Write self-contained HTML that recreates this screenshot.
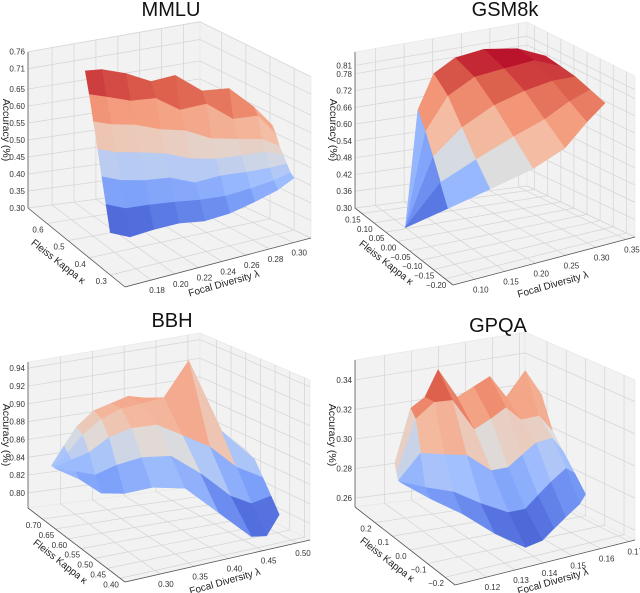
<!DOCTYPE html>
<html><head><meta charset="utf-8">
<style>
html,body{margin:0;padding:0;background:#fff;}
svg{display:block;font-family:"Liberation Sans",sans-serif;}
</style></head>
<body>
<svg id="chart" width="640" height="593" viewBox="0 0 640 593" xmlns="http://www.w3.org/2000/svg"></svg>
<script>
// ---------- MMLU data ----------
const mmluLam = [0.192,0.205,0.221,0.237,0.252,0.268,0.284,0.299,0.310];
const mmluKLo = [0.483,0.460,0.437,0.405,0.368,0.340,0.313,0.290,0.276];
const mmluKHi = [0.598,0.589,0.561,0.529,0.497,0.460,0.423,0.391,0.368];
const mmluZ = [
 [0.31,0.30,0.32,0.34,0.35,0.37,0.40,0.43,0.46],
 [0.38,0.37,0.38,0.39,0.40,0.41,0.43,0.45,0.47],
 [0.45,0.44,0.44,0.45,0.44,0.46,0.47,0.48,0.49],
 [0.52,0.51,0.51,0.51,0.50,0.50,0.51,0.52,0.51],
 [0.59,0.58,0.58,0.57,0.57,0.55,0.55,0.55,0.53],
 [0.66,0.65,0.64,0.65,0.62,0.64,0.60,0.61,0.56],
 [0.72,0.72,0.71,0.69,0.71,0.67,0.68,0.63,0.58]];
const mmluLamTicks = [0.18,0.20,0.22,0.24,0.26,0.28,0.30];
const mmluKTicks = [0.6,0.5,0.4,0.3];
const mmluKLabels = ["0.6","0.5","0.4","0.3"];
const mmluZTicks = [0.30,0.35,0.40,0.45,0.50,0.55,0.60,0.65,0.71,0.76];

// ---------- GSM8k data ----------
const gsmLam = [0.100,0.139,0.184,0.230,0.275,0.320,0.360];
const gsmKLo = [0.055,-0.027,-0.089,-0.151,-0.171,-0.151,-0.130];
const gsmKHi = [0.055,0.097,0.138,0.158,0.146,0.117,0.097];
const gsmZ = [
 [0.30,0.40,0.48,0.56,0.62,0.68,0.72],
 [0.30,0.47,0.55,0.63,0.68,0.72,0.74],
 [0.30,0.54,0.63,0.70,0.74,0.76,0.76],
 [0.30,0.61,0.71,0.76,0.78,0.80,0.77],
 [0.30,0.67,0.76,0.79,0.81,0.81,0.78]];
const gsmLamTicks = [0.10,0.15,0.20,0.25,0.30,0.35];
const gsmKTicks = [0.15,0.10,0.05,0.00,-0.05,-0.10,-0.15,-0.20];
const gsmKLabels = ["0.15","0.10","0.05","0.00","\u22120.05","\u22120.10","\u22120.15","\u22120.20"];
const gsmZTicks = [0.30,0.36,0.42,0.48,0.54,0.60,0.66,0.72,0.78,0.81];

// ---------- BBH data ----------
const bbhLam = [0.263,0.290,0.317,0.344,0.371,0.398,0.425,0.452,0.479,0.506];
const bbhKLo = [0.681,0.662,0.644,0.625,0.587,0.531,0.475,0.426,0.437,0.456];
const bbhKHi = [0.700,0.719,0.737,0.737,0.737,0.737,0.737,0.719,0.644,0.569];
const bbhZ = [
 [0.84,0.83,0.815,0.815,0.825,0.83,0.81,0.79,0.785,0.80],
 [0.84,0.835,0.83,0.84,0.85,0.855,0.84,0.82,0.81,0.815],
 [0.84,0.845,0.85,0.865,0.875,0.88,0.87,0.86,0.84,0.83],
 [0.84,0.85,0.865,0.88,0.89,0.895,0.90,0.94,0.87,0.845],
 [0.84,0.855,0.87,0.885,0.89,0.895,0.89,0.89,0.875,0.85]];
const bbhLamTicks = [0.30,0.35,0.40,0.45,0.50];
const bbhKTicks = [0.70,0.65,0.60,0.55,0.50,0.45,0.40];
const bbhKLabels = ["0.70","0.65","0.60","0.55","0.50","0.45","0.40"];
const bbhZTicks = [0.80,0.82,0.84,0.86,0.88,0.90,0.92,0.94];

// ---------- GPQA data ----------
const gpqaLam = [0.117,0.122,0.128,0.134,0.141,0.147,0.153,0.159,0.166,0.170];
const gpqaKLo = [0.171,0.086,0.000,-0.086,-0.143,-0.143,-0.114,-0.086,-0.057,-0.029];
const gpqaKHi = [0.211,0.200,0.211,0.228,0.228,0.228,0.228,0.228,0.228,0.200];
const gpqaZ = [
 [0.28,0.275,0.27,0.262,0.255,0.257,0.26,0.263,0.267,0.27],
 [0.28,0.28,0.28,0.275,0.27,0.27,0.275,0.28,0.285,0.28],
 [0.28,0.30,0.30,0.30,0.29,0.29,0.295,0.30,0.30,0.29],
 [0.285,0.32,0.33,0.33,0.31,0.315,0.32,0.31,0.31,0.30],
 [0.29,0.325,0.33,0.345,0.325,0.33,0.335,0.32,0.335,0.32]];
const gpqaLamTicks = [0.12,0.13,0.14,0.15,0.16,0.17];
const gpqaKTicks = [0.2,0.1,0.0,-0.1,-0.2];
const gpqaKLabels = ["0.2","0.1","0.0","\u22120.1","\u22120.2"];
const gpqaZTicks = [0.26,0.28,0.30,0.32,0.34];

const NS = "http://www.w3.org/2000/svg";
const svg = document.getElementById('chart');
function mk(tag, attrs, parent){
  const e = document.createElementNS(NS, tag);
  for (const k in attrs) e.setAttribute(k, attrs[k]);
  (parent||svg).appendChild(e);
  return e;
}
const CM = [[0,[58,76,192]],[0.125,[88,118,226]],[0.25,[124,159,249]],[0.375,[162,192,254]],[0.5,[221,221,221]],[0.625,[243,190,165]],[0.75,[244,154,123]],[0.875,[221,97,77]],[1,[180,4,38]]];
function cmap(t){
  t = Math.max(0, Math.min(1, t));
  for (let i=1;i<CM.length;i++){
    if (t <= CM[i][0]){
      const a = CM[i-1], b = CM[i], f = (t-a[0])/(b[0]-a[0]);
      const c = a[1].map((v,j)=>Math.round(v+(b[1][j]-v)*f));
      return 'rgb('+c.join(',')+')';
    }
  }
  return 'rgb(180,4,38)';
}

const panels = [
 {name:'mmlu', title:'MMLU', ox:0, oy:0, F:[125,287], R:[311,238], L:[28,208], B:[200,186], H:{F:175,R:161,L:156,B:164},
  lam:[0.158,0.315], kap:[0.23,0.69], zr:[0.30,0.759],
  sLam:mmluLam, sLo:mmluKLo, sHi:mmluKHi, sZ:mmluZ, lt:mmluLamTicks, kt:mmluKTicks, kl:mmluKLabels, zt:mmluZTicks,
  titleXY:[171,16], accXY:[6,130], fkXY:[58,262], fdXY:[224,284]},
 {name:'gsm8k', title:'GSM8k', ox:320, oy:0, F:[133,285], R:[315,237], L:[35,208], B:[207,186], H:{F:175,R:161,L:156,B:164},
  lam:[0.064,0.365], kap:[-0.233,0.179], zr:[0.30,0.858],
  sLam:gsmLam, sLo:gsmKLo, sHi:gsmKHi, sZ:gsmZ, lt:gsmLamTicks, kt:gsmKTicks, kl:gsmKLabels, zt:gsmZTicks,
  titleXY:[185,16], accXY:[13,130], fkXY:[66,263], fdXY:[233,285]},
 {name:'bbh', title:'BBH', ox:0, oy:300, F:[125,282], R:[310,240], L:[28,208], B:[200,186], H:{F:170,R:160,L:146,B:153},
  lam:[0.249,0.519], kap:[0.381,0.756], zr:[0.783,0.947],
  sLam:bbhLam, sLo:bbhKLo, sHi:bbhKHi, sZ:bbhZ, lt:bbhLamTicks, kt:bbhKTicks, kl:bbhKLabels, zt:bbhZTicks,
  titleXY:[172,27], accXY:[6,135], fkXY:[60,262], fdXY:[225,282]},
 {name:'gpqa', title:'GPQA', ox:320, oy:300, F:[135,285], R:[315,240], L:[35,207], B:[205,186], H:{F:170,R:160,L:147,B:154},
  lam:[0.109,0.172], kap:[-0.257,0.314], zr:[0.254,0.3535],
  sLam:gpqaLam, sLo:gpqaKLo, sHi:gpqaKHi, sZ:gpqaZ, lt:gpqaLamTicks, kt:gpqaKTicks, kl:gpqaKLabels, zt:gpqaZTicks,
  titleXY:[178,32], accXY:[12,135], fkXY:[67,260], fdXY:[233,282]}
];

function drawPanel(p){
  const g = mk('g', {});
  
  
  const uOf = l => (l - p.lam[0])/(p.lam[1]-p.lam[0]);
  const vOf = k => (k - p.kap[0])/(p.kap[1]-p.kap[0]);
  const wOf = z => (z - p.zr[0])/(p.zr[1]-p.zr[0]);
  function proj(u,v,w){
    const a=(1-u)*(1-v), b=u*(1-v), c=(1-u)*v, d=u*v;
    const x = a*p.F[0]+b*p.R[0]+c*p.L[0]+d*p.B[0];
    const y = a*p.F[1]+b*p.R[1]+c*p.L[1]+d*p.B[1];
    const h = a*p.H.F+b*p.H.R+c*p.H.L+d*p.H.B;
    return [p.ox+x, p.oy+y-w*h];
  }
  const pts = arr => arr.map(q=>q[0].toFixed(1)+','+q[1].toFixed(1)).join(' ');
  const panes = [
    ['left-wall-pane',[proj(0,1,0),proj(1,1,0),proj(1,1,1),proj(0,1,1)]],
    ['right-wall-pane',[proj(1,1,0),proj(1,0,0),proj(1,0,1),proj(1,1,1)]],
    ['floor-pane',[proj(0,0,0),proj(1,0,0),proj(1,1,0),proj(0,1,0)]]];
  panes.forEach(pp=>{
    const e = mk('polygon',{points:pts(pp[1]), fill:'#f2f2f2', stroke:'#e6e6e6','stroke-width':0.6}, g);
    
    
  });
  const gl = {stroke:'#d4d4d4','stroke-width':0.7, fill:'none'};
  function line(a,b,attrs,name){
    const e = mk('line',Object.assign({x1:a[0],y1:a[1],x2:b[0],y2:b[1]},attrs), g);
    
    
  }
  p.lt.forEach(l=>{ const u=uOf(l);
    line(proj(u,1,0),proj(u,1,1),gl,'lambda-gridline-wall');
    line(proj(u,0,0),proj(u,1,0),gl,'lambda-gridline-floor'); });
  p.kt.forEach(k=>{ const v=vOf(k);
    line(proj(1,v,0),proj(1,v,1),gl,'kappa-gridline-wall');
    line(proj(0,v,0),proj(1,v,0),gl,'kappa-gridline-floor'); });
  p.zt.forEach(z=>{ const w=wOf(z);
    line(proj(0,1,w),proj(1,1,w),gl,'z-gridline-left');
    line(proj(1,1,w),proj(1,0,w),gl,'z-gridline-right'); });
  const ax = {stroke:'#555','stroke-width':0.8};
  line(proj(0,0,0),proj(1,0,0),ax,'lambda-axis-line');
  line(proj(0,0,0),proj(0,1,0),ax,'kappa-axis-line');
  line(proj(0,1,0),proj(0,1,1),ax,'z-axis-line');
  const quads = [];
  let zmin=1e9,zmax=-1e9;
  p.sZ.forEach(r=>r.forEach(z=>{zmin=Math.min(zmin,z);zmax=Math.max(zmax,z);}));
  const nR = p.sZ.length, nC = p.sLam.length;
  function uvw(r,c){
    const u = uOf(p.sLam[c]);
    const k = p.sLo[c] + (p.sHi[c]-p.sLo[c])*r/(nR-1);
    return [u, vOf(k), wOf(p.sZ[r][c]), p.sZ[r][c]];
  }
  for (let r=0;r<nR-1;r++) for (let c=0;c<nC-1;c++){
    const cs = [uvw(r,c),uvw(r,c+1),uvw(r+1,c+1),uvw(r+1,c)];
    const depth = cs.reduce((s,q)=>s+q[0]+q[1],0);
    const zavg = cs.reduce((s,q)=>s+q[3],0)/4;
    quads.push({cs,depth,zavg});
  }
  quads.sort((a,b)=>b.depth-a.depth);
  quads.forEach(q=>{
    const col = cmap((q.zavg-zmin)/(zmax-zmin));
    const e = mk('polygon',{points:pts(q.cs.map(c=>proj(c[0],c[1],c[2]))), fill:col, stroke:col,'stroke-width':0.6,'stroke-linejoin':'round'}, g);
    
    
  });
  const tf = {'font-size':'8px', fill:'#333'};
  p.lt.forEach(l=>{ const q=proj(uOf(l),0,0);
    const t = mk('text',Object.assign({x:q[0]+6,y:q[1]+13,'text-anchor':'middle'},tf),g);
    t.textContent = l.toFixed(2);
    
     });
  p.kt.forEach((k,i)=>{ const q=proj(0,vOf(k),0);
    const t = mk('text',Object.assign({x:q[0]-9,y:q[1]+9,'text-anchor':'middle'},tf),g);
    t.textContent = p.kl[i];
    
     });
  p.zt.forEach(z=>{ const q=proj(0,1,wOf(z));
    const t = mk('text',Object.assign({x:q[0]-3,y:q[1]+3,'text-anchor':'end'},tf),g);
    t.textContent = z.toFixed(2);
    
     });
  function label(txt, xy, rot, size, name){
    const x=p.ox+xy[0], y=p.oy+xy[1];
    const t = mk('text',{x:x,y:y,'text-anchor':'middle','dominant-baseline':'middle','font-size':size,fill:'#222',transform:'rotate('+rot+' '+x+' '+y+')'},g);
    t.textContent = txt;
    
    
  }
  label('Accuracy (%)', p.accXY, 90, '10.5px', 'z-axis-title');
  label('Fleiss Kappa \u03ba', p.fkXY, 38, '10px', 'kappa-axis-title');
  label('Focal Diversity \u03bb', p.fdXY, -16, '10px', 'lambda-axis-title');
  const tt = mk('text',{x:p.ox+p.titleXY[0], y:p.oy+p.titleXY[1], 'text-anchor':'middle','font-size':'20px',fill:'#111'},g);
  tt.textContent = p.title;
  
  
}
panels.forEach(drawPanel);
</script>
</body></html>
